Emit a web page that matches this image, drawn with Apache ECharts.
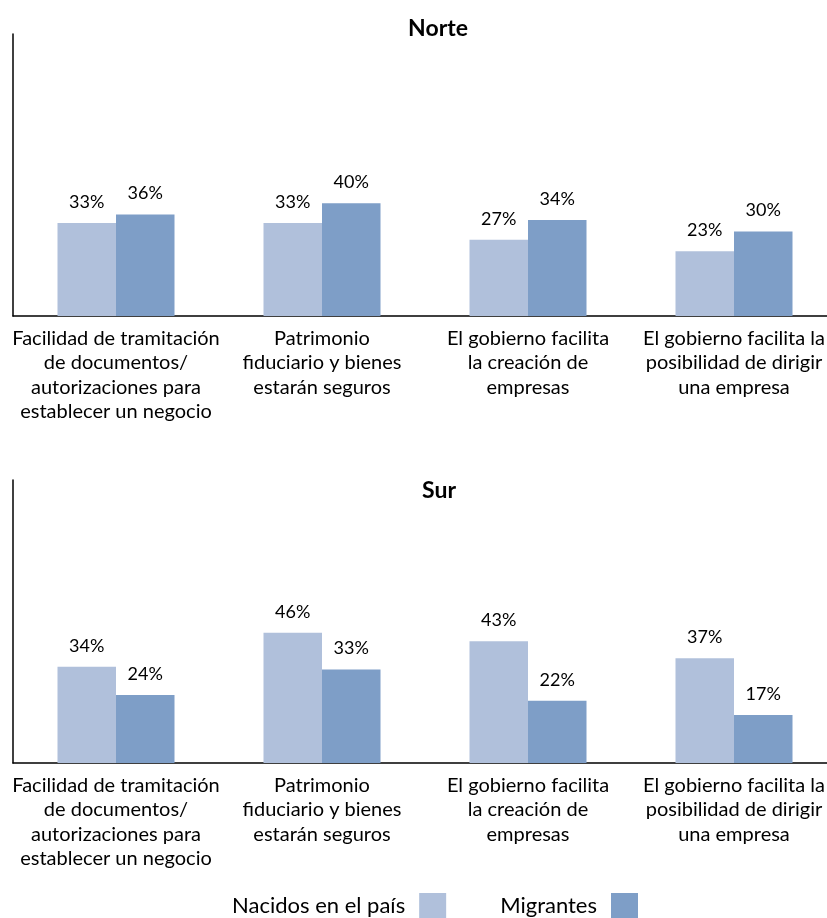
<!DOCTYPE html>
<html>
<head>
<meta charset="utf-8">
<title>Norte / Sur</title>
<script src="https://cdn.jsdelivr.net/npm/echarts@6/dist/echarts.min.js"></script>
<style>
  html, body { margin: 0; padding: 0; background: #fff; }
  #chart { width: 827px; height: 918px; }
</style>
</head>
<body>
<div id="chart"></div>
<script>
// datos
var categorias = [
  'Facilidad de tramitación\nde documentos/\nautorizaciones para\nestablecer un negocio',
  'Patrimonio\nfiduciario y bienes\nestarán seguros',
  'El gobierno facilita\nla creación de\nempresas',
  'El gobierno facilita la\nposibilidad de dirigir\nuna empresa'
];
var norteNacidos = [33, 33, 27, 23];
var norteMigrantes = [36, 40, 34, 30];
var surNacidos = [34, 46, 43, 37];
var surMigrantes = [24, 33, 22, 17];
var series1 = 'Nacidos en el país';
var series2 = 'Migrantes';

var colorClaro = '#B0C0DB';
var colorOscuro = '#7E9EC7';
var fuente = 'Lato';

function ejeX(idx) {
  return {
    type: 'category', gridIndex: idx, data: categorias,
    axisLine: { lineStyle: { color: '#000', width: 1.5 } },
    axisTick: { show: false },
    axisLabel: { interval: 0, color: '#000', fontFamily: fuente, fontSize: 20, lineHeight: 24.5, margin: 10 }
  };
}
function ejeY(idx) {
  return {
    type: 'value', gridIndex: idx, min: 0, max: 100,
    axisLine: { show: true, lineStyle: { color: '#000', width: 1.5 } },
    axisTick: { show: false }, axisLabel: { show: false }, splitLine: { show: false }
  };
}
function barras(nombre, datos, color, idx) {
  return {
    name: nombre, type: 'bar', xAxisIndex: idx, yAxisIndex: idx, data: datos,
    barWidth: '28.4%', barGap: '0%',
    itemStyle: { color: color },
    label: {
      show: true, position: 'top', distance: 12, formatter: '{c}%',
      color: '#000', fontFamily: fuente, fontSize: 18
    }
  };
}

var chart = echarts.init(document.getElementById('chart'));
chart.setOption({
  animation: false,
  title: [
    { text: 'Norte', left: 433, top: 12, textAlign: 'center',
      textStyle: { fontFamily: fuente, fontWeight: 'bold', fontSize: 23, color: '#000' } },
    { text: 'Sur', left: 434, top: 474, textAlign: 'center',
      textStyle: { fontFamily: fuente, fontWeight: 'bold', fontSize: 23, color: '#000' } }
  ],
  legend: {
    data: [series1, series2], left: 232, top: 893, align: 'right', padding: 0,
    itemWidth: 27, itemHeight: 25, itemGap: 54, icon: 'rect',
    textStyle: { fontFamily: fuente, fontSize: 22, color: '#000', padding: [0, 9, 0, 0] }
  },
  grid: [
    { left: 13, width: 824, top: 34, height: 282, outerBoundsMode: 'none', containLabel: false },
    { left: 13, width: 824, top: 480, height: 283, outerBoundsMode: 'none', containLabel: false }
  ],
  xAxis: [ejeX(0), ejeX(1)],
  yAxis: [ejeY(0), ejeY(1)],
  series: [
    barras(series1, norteNacidos, colorClaro, 0),
    barras(series2, norteMigrantes, colorOscuro, 0),
    barras(series1, surNacidos, colorClaro, 1),
    barras(series2, surMigrantes, colorOscuro, 1)
  ]
});
</script>
</body>
</html>
